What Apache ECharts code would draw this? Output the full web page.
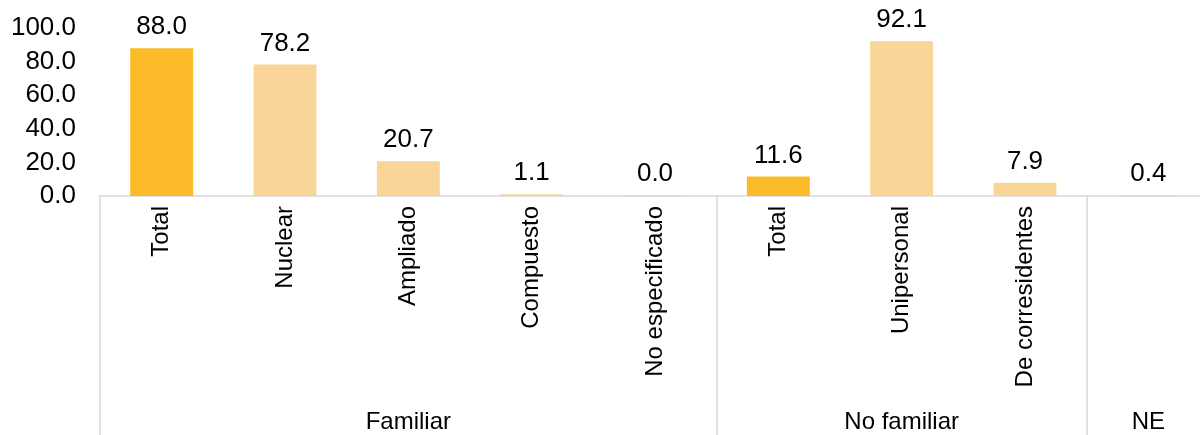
<!DOCTYPE html>
<html>
<head>
<meta charset="utf-8">
<script src="https://cdn.jsdelivr.net/npm/echarts@6/dist/echarts.min.js"></script>
<style>html,body{margin:0;padding:0;background:#fff}#c{width:1200px;height:435px}</style>
</head>
<body>
<div id="c"></div>
<script>
var categories = ['Total', 'Nuclear', 'Ampliado', 'Compuesto', 'No especificado', 'Total', 'Unipersonal', 'De corresidentes', ''];
var values = [88.0, 78.2, 20.7, 1.1, 0.0, 11.6, 92.1, 7.9, 0.4];
var isTotal = [true, false, false, false, false, true, false, false, false];
var groupNames = ['Familiar', 'No familiar', 'NE'];
var groupSizes = [5, 3, 1];
var yTicks = [0, 20, 40, 60, 80, 100];

var DARK = '#FBBA27';
var LIGHT = '#F9D597';
var FONT = 'Liberation Sans';

// group boundaries and group label positions derived from groupSizes
var boundaryIdx = {};
var groupLabelByIdx = [];
var start = 0;
groupSizes.forEach(function (n, g) {
  boundaryIdx[start] = true;
  for (var i = 0; i < n; i++) groupLabelByIdx.push('');
  groupLabelByIdx[start + Math.floor(n / 2)] = groupNames[g];
  start += n;
});

var chart = echarts.init(document.getElementById('c'));
chart.setOption({
  animation: false,
  textStyle: { fontFamily: FONT },
  grid: { left: 100, right: -10, top: 28, bottom: 239, containLabel: false, outerBoundsMode: 'none' },
  xAxis: [{
    type: 'category',
    data: categories,
    position: 'bottom',
    axisLine: { show: true, lineStyle: { color: '#d9d9d9', width: 1.5 } },
    axisTick: {
      show: true, length: 240, alignWithLabel: false,
      interval: function (idx) { return !!boundaryIdx[idx]; },
      lineStyle: { color: '#d9d9d9', width: 1.5 }
    },
    axisLabel: { interval: 0, rotate: 90, margin: 10, fontSize: 24, color: '#000', fontFamily: FONT }
  }, {
    type: 'category',
    data: groupLabelByIdx,
    position: 'bottom',
    axisLine: { show: false },
    axisTick: { show: false },
    axisLabel: { interval: 0, margin: 214, fontSize: 24, color: '#000', fontFamily: FONT }
  }],
  yAxis: {
    type: 'value',
    min: yTicks[0], max: yTicks[yTicks.length - 1], interval: yTicks[1] - yTicks[0],
    axisLine: { show: false }, axisTick: { show: false }, splitLine: { show: false },
    axisLabel: { fontSize: 26, color: '#000', margin: 24, fontFamily: FONT,
      formatter: function (v) { return v.toFixed(1); } }
  },
  series: [{
    type: 'bar',
    xAxisIndex: 0,
    barWidth: '51%',
    barMinHeight: 1,
    data: values.map(function (v, i) {
      return { value: v, itemStyle: { color: isTotal[i] ? DARK : LIGHT } };
    }),
    label: { show: true, position: 'top', distance: 8, fontSize: 26, color: '#000', fontFamily: FONT,
      formatter: function (p) { return p.value.toFixed(1); } }
  }]
});
</script>
</body>
</html>
